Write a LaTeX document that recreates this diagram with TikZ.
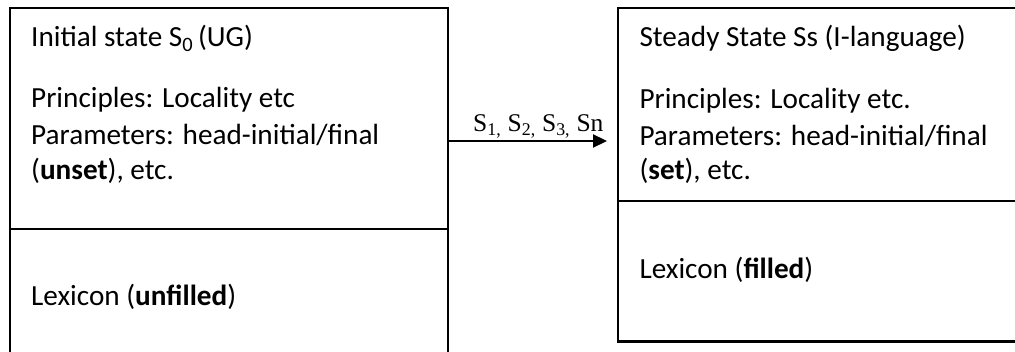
\documentclass[tikz,border=0pt]{standalone}
\usepackage{fontspec}
\setmainfont{Carlito}
\newfontfamily\seriffont{Liberation Serif}
\usetikzlibrary{arrows.meta}

\begin{document}
\begin{tikzpicture}[x=1pt,y=-1pt,
  frame/.style={draw=black, line width=2.2pt, rectangle, inner sep=0pt, outer sep=0pt, anchor=north west},
  rule/.style={draw=black, line width=2pt},
  txt/.style={anchor=base west, inner sep=0pt, font=\fontsize{29.2}{36}\selectfont},
  conn/.style={draw=black, line width=2.2pt, -{Triangle[length=14pt, width=13pt]}},
  lbl/.style={anchor=base west, inner sep=0pt, font=\seriffont\fontsize{25.5}{30}\selectfont}]
  \clip (0,0) rectangle (1015,352);

  % the two state boxes
  \node[frame, minimum width=438pt, minimum height=370pt] (init) at (10,8) {};
  \node[frame, minimum width=420pt, minimum height=333.5pt] (steady) at (617.7,8) {};

  % dividers between the grammar part and the lexicon
  \draw[rule] (init.west |- 0,228.7) -- (init.east |- 0,228.7);
  \draw[rule] (steady.west |- 0,200.7) -- (steady.east |- 0,200.7);

  % initial state text
  \node[txt] (i1) at (31,46.7) {Initial state S\textsubscript{0}\,(UG)};
  \node[txt] (i2) at (31,108) {Principles: Locality etc};
  \node[txt] (i3) at (31,145) {Parameters: head-initial/final};
  \node[txt] (i4) at (31,180) {(\textbf{unset}), etc.};
  \node[txt] (i5) at (31,306) {Lexicon (\textbf{unfilled})};

  % steady state text
  \node[txt] (s1) at (639.3,46.7) {Steady State Ss (I-language)};
  \node[txt] (s2) at (639.3,109) {Principles: Locality etc.};
  \node[txt] (s3) at (639.3,146) {Parameters: head-initial/final};
  \node[txt] (s4) at (639.3,180) {(\textbf{set}), etc.};
  \node[txt] (s5) at (639.3,279) {Lexicon (\textbf{filled})};

  % transition arrow
  \coordinate (tip) at (607,141);
  \draw[conn] (init.east |- tip) -- (tip);
  \node[lbl] (seq) at (473,131.7) {S\textsubscript{1,} S\textsubscript{2,} S\textsubscript{3,} Sn};
\end{tikzpicture}
\end{document}
